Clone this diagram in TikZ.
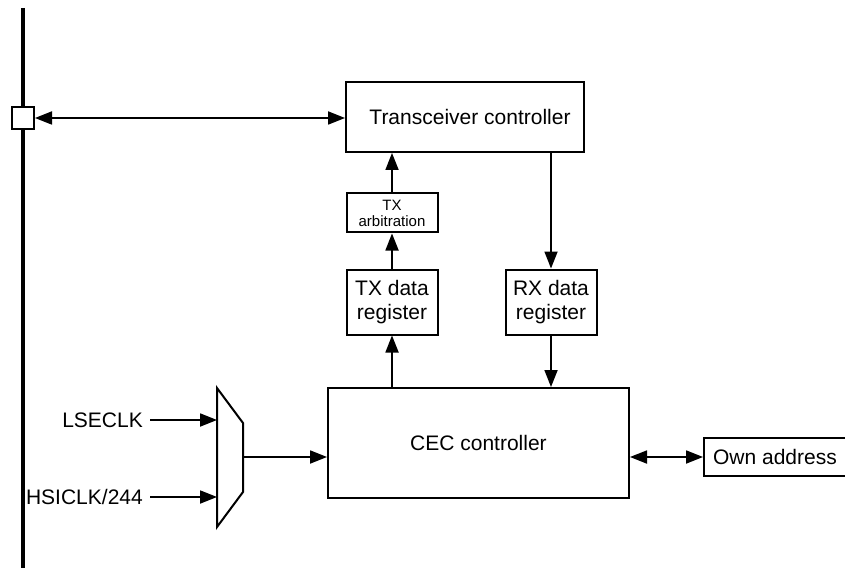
\documentclass[tikz,border=0pt]{standalone}
\usepackage{fontspec}
\setmainfont{Liberation Sans}
\usetikzlibrary{arrows.meta}
\begin{document}
\begin{tikzpicture}[x=1pt,y=-1pt,
  blk/.style={draw,line width=2pt,inner sep=0pt,font=\fontsize{21}{24}\selectfont,align=center},
  con/.style={line width=1.8pt,-{Triangle[length=17pt,width=13pt]}},
  bicon/.style={line width=1.8pt,{Triangle[length=17pt,width=13pt]}-{Triangle[length=17pt,width=13pt]}},
  lbl/.style={font=\fontsize{21}{24}\selectfont,inner sep=0pt,anchor=east}]
\useasboundingbox (0,0) rectangle (845,569);
% bus line
\draw[line width=4pt] (23,8) coordinate (bustop) -- (23,568) coordinate (busbot);
\node[draw,line width=2pt,fill=white,minimum size=22pt,inner sep=0pt] (pin) at (23,118) {};
% boxes
\node[blk,minimum width=238pt,minimum height=70pt] (trx) at (465,117) {\hspace*{10pt}Transceiver controller};
\node[blk,minimum width=91pt,minimum height=39pt,font=\fontsize{15}{16}\selectfont] (arb) at (392,213) {TX\\arbitration};
\node[blk,minimum width=91pt,minimum height=65pt] (txd) at (392,302) {TX data\\register};
\node[blk,minimum width=91pt,minimum height=65pt] (rxd) at (551,302) {RX data\\register};
\node[blk,minimum width=301pt,minimum height=110pt] (cec) at (478.5,443) {CEC controller};
\node[blk,minimum width=142pt,minimum height=38pt,anchor=west] (own) at (703,457) {Own address};
% mux
\draw[line width=2pt] (217,388) coordinate (mtl) -- (243,423) -- (243,492) -- (217,527) coordinate (mbl) -- cycle;
\coordinate (mout) at (243,457);
\coordinate (min1) at (217,420);
\coordinate (min2) at (217,497);
% labels
\node[lbl] (lse) at (143,420) {LSECLK};
\node[lbl] (hsi) at (143,497) {HSICLK/244};
% connectors
\draw[bicon] (pin.east) -- (trx.west |- pin.east);
\draw[con] (arb.north) -- (trx.south -| arb.north);
\draw[con] (txd.north) -- (arb.south);
\draw[con] (trx.south -| rxd.north) -- (rxd.north);
\draw[con] (cec.north -| txd.south) -- (txd.south);
\draw[con] (rxd.south) -- (cec.north -| rxd.south);
\draw[con] (mout) -- (cec.west |- mout);
\draw[con] ([xshift=7pt]lse.east) -- (min1);
\draw[con] ([xshift=7pt]hsi.east) -- (min2);
\draw[bicon] (cec.east |- own.west) -- (own.west);
\end{tikzpicture}
\end{document}
